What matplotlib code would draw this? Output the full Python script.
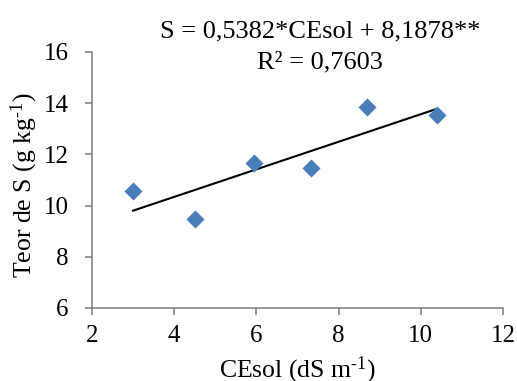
import matplotlib
matplotlib.use("Agg")
import matplotlib.pyplot as plt
import numpy as np

plt.rcParams['font.family'] = ['Liberation Serif', 'DejaVu Serif']
plt.rcParams['mathtext.fontset'] = 'custom'
plt.rcParams['mathtext.rm'] = 'Liberation Serif'
plt.rcParams['mathtext.default'] = 'regular'

ce_sol = [3.0, 4.5, 5.93, 7.33, 8.70, 10.39]
teor_s = [10.57, 9.48, 11.66, 11.48, 13.86, 13.53]
slope = 0.5382
intercept = 8.1878
x_ticks = [2, 4, 6, 8, 10, 12]
y_ticks = [6, 8, 10, 12, 14, 16]
eq_line1 = "S = 0,5382*CEsol + 8,1878**"
eq_line2 = "R² = 0,7603"

fig = plt.figure(figsize=(5.17, 3.81), dpi=100)
ax = fig.add_axes([92/517, 1 - 308/381, 411/517, 256/381])

ax.scatter(ce_sol, teor_s, marker='D', s=85, color='#4A7EBB', zorder=3, linewidths=0)
xl = np.array([min(ce_sol), max(ce_sol)])
ax.plot(xl, slope * xl + intercept, color='black', lw=1.5, zorder=2)

ax.set_xlim(2, 12)
ax.set_ylim(6, 16)
ax.set_xticks(x_ticks)
ax.set_yticks(y_ticks)
for s in ['top', 'right']:
    ax.spines[s].set_visible(False)
for s in ['left', 'bottom']:
    ax.spines[s].set_color('#868686')
    ax.spines[s].set_linewidth(1.2)
ax.tick_params(direction='out', length=5, width=1.2, color='#868686', labelsize=18)
ax.tick_params(axis='y', pad=12)
ax.tick_params(axis='x', pad=7)

ax.set_xlabel(r'CEsol (dS m$^{\text{-}1}$)', fontsize=18.5)
ax.set_ylabel(r'Teor de S (g kg$^{\text{-}1}$)', fontsize=18.5)
ax.xaxis.set_label_coords(0.5, -0.184)
ax.yaxis.set_label_coords(-0.127, 0.48)

fig.text(320/517, 1 - 37/381, eq_line1, ha='center', va='baseline', fontsize=19)
fig.text(320/517, 1 - 68/381, eq_line2, ha='center', va='baseline', fontsize=19)

fig.savefig('out.png', dpi=100)
